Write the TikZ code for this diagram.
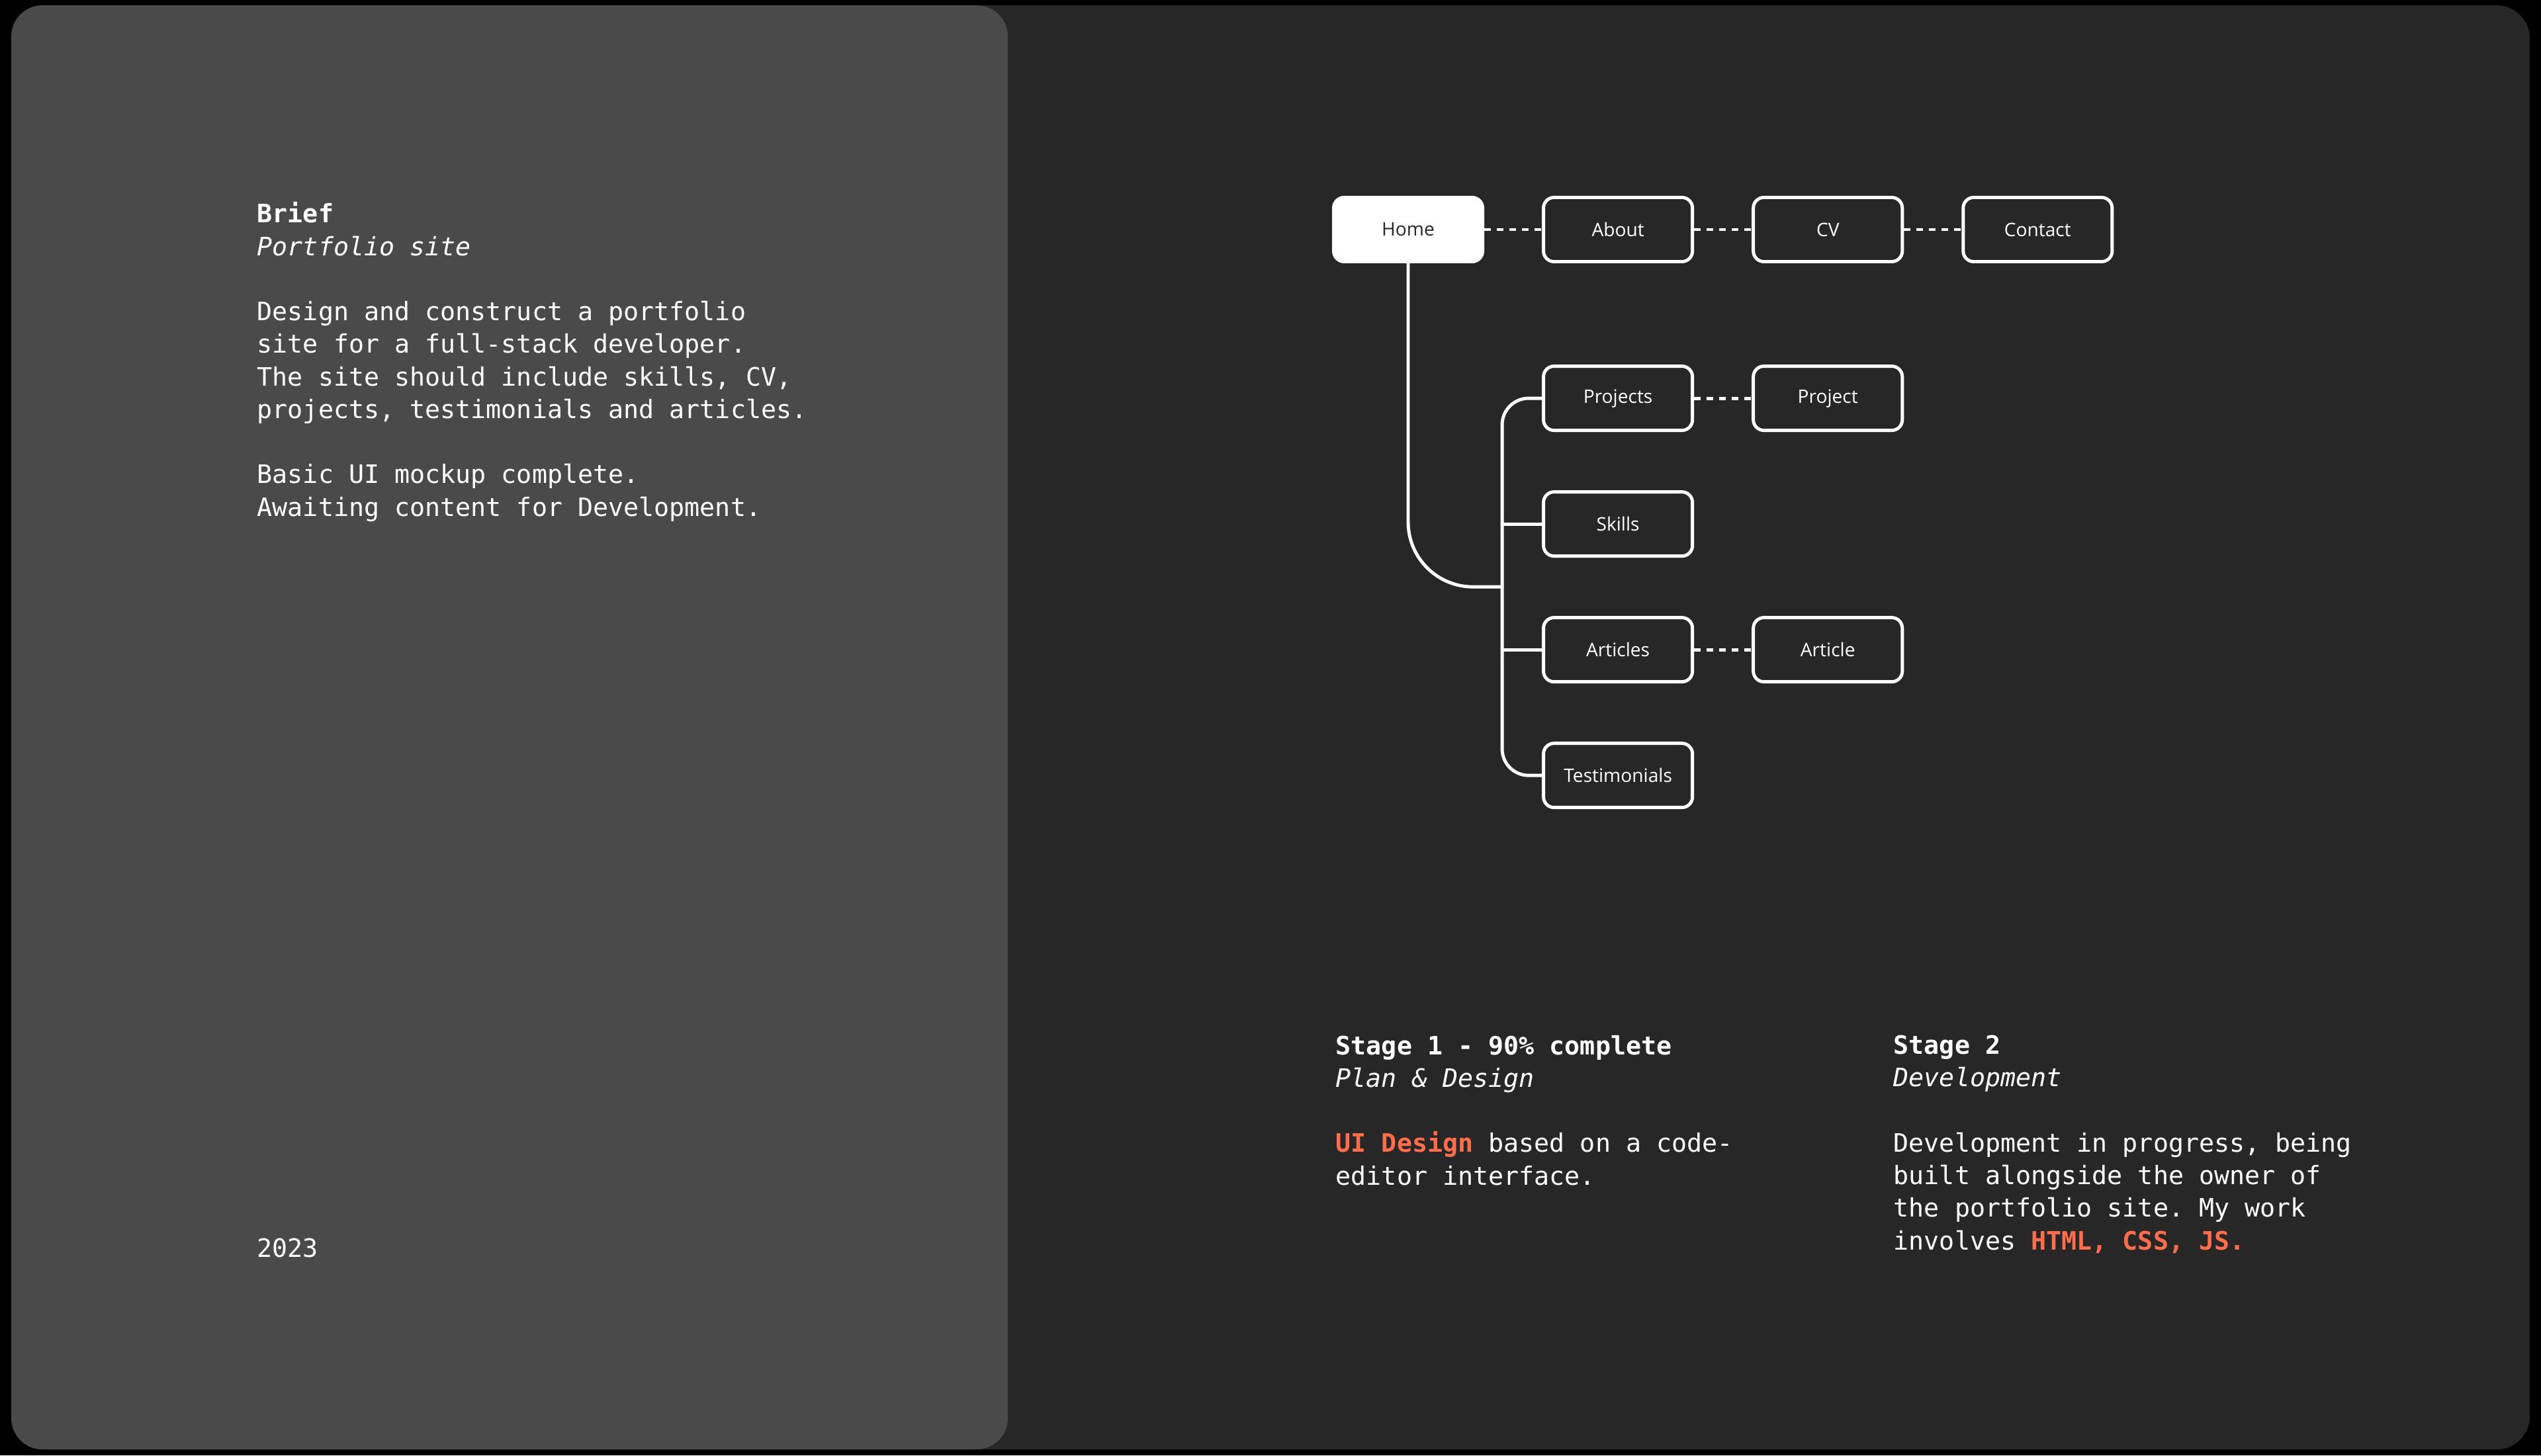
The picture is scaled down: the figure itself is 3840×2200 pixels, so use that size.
\documentclass[tikz,border=0pt]{standalone}
\usepackage{fontspec}
\setmonofont{DejaVu Sans Mono}
\newfontfamily\boxfont{Open Sans}
\usetikzlibrary{positioning,calc}
\definecolor{framebg}{HTML}{000000}
\definecolor{briefpanel}{HTML}{4A4A4A}
\definecolor{sitepanel}{HTML}{272727}
\definecolor{accent}{HTML}{FF6D4A}
\newcommand{\hilite}[1]{\textbf{\textcolor{accent}{#1}}}
\tikzset{
  pagebox/.style={
    rounded corners=0.16cm,
    minimum width=2.25cm,
    minimum height=0.97cm,
    draw=white,
    fill=sitepanel,
    line width=1.4pt,
    text=white,
    font=\boxfont\fontsize{8}{10}\selectfont,
  },
  homebox/.style={
    pagebox,
    fill=white,
    text=sitepanel,
  },
  tree/.style={
    draw=white,
    line width=1.4pt,
  },
  sublink/.style={
    draw=white,
    line width=1.4pt,
    dash pattern=on 2.8pt off 2.6pt,
  },
  bodytext/.style={
    anchor=base west,
    align=left,
    inner sep=0pt,
    text=white,
    font=\ttfamily\fontsize{10.9}{14}\selectfont,
  },
}
\begin{document}
\begin{tikzpicture}[x=0.01cm, y=-0.01cm, node distance=0.88cm and 0.87cm]
  % backgrounds
  \useasboundingbox (0,0) rectangle (3840,2200);
  \fill[framebg] (0,0) rectangle (3840,2200);
  \fill[sitepanel, rounded corners=0.5cm] (17,8) rectangle (3823,2191);
  \fill[briefpanel, rounded corners=0.47cm] (17,8) rectangle (1523,2191);

  % brief (anchored on its last line)
  \node[bodytext] (brief) at (388,780) {%
    \textbf{Brief}\\
    \textit{Portfolio site}\\[14pt]
    Design and construct a portfolio\\
    site for a full-stack developer.\\
    The site should include skills, CV,\\
    projects, testimonials and articles.\\[14pt]
    Basic UI mockup complete.\\
    Awaiting content for Development.};
  \node[bodytext] (year) at (388,1900) {2023};

  % site map
  \node[homebox] (home) at (2128,347) {Home};
  \node[pagebox, right=of home] (about) {About};
  \node[pagebox, right=of about] (cv) {CV};
  \node[pagebox, right=of cv] (contact) {Contact};

  \node[pagebox, below=1.53cm of about] (projects) {Projects};
  \node[pagebox, right=of projects] (project) {Project};
  \node[pagebox, below=of projects] (skills) {Skills};
  \node[pagebox, below=of skills] (articles) {Articles};
  \node[pagebox, right=of articles] (article) {Article};
  \node[pagebox, below=of articles] (testimonials) {Testimonials};

  \coordinate (bus) at ([xshift=-0.6cm]projects.west);
  \coordinate (hub) at ($(skills.west)!0.5!(articles.west)$);

  \draw[sublink] (home) -- (about);
  \draw[sublink] (about) -- (cv);
  \draw[sublink] (cv) -- (contact);
  \draw[sublink] (projects) -- (project);
  \draw[sublink] (articles) -- (article);

  \draw[tree, rounded corners=0.4cm]
    (projects.west) -| (bus |- testimonials.west) -- (testimonials.west);
  \draw[tree] (skills.west) -- (bus |- skills.west);
  \draw[tree] (articles.west) -- (bus |- articles.west);
  \draw[tree, rounded corners=0.98cm] (home.south) |- (bus |- hub);

  % stages (anchored on their last lines)
  \node[bodytext] (stage one) at (2018,1791) {%
    \textbf{Stage 1 - 90\% complete}\\
    \textit{Plan \& Design}\\[14pt]
    \hilite{UI Design} based on a code-\\
    editor interface.};
  \node[bodytext] (stage two) at (2861,1889) {%
    \textbf{Stage 2}\\
    \textit{Development}\\[14pt]
    Development in progress, being\\
    built alongside the owner of\\
    the portfolio site. My work\\
    involves \hilite{HTML, CSS, JS.}};
\end{tikzpicture}
\end{document}
